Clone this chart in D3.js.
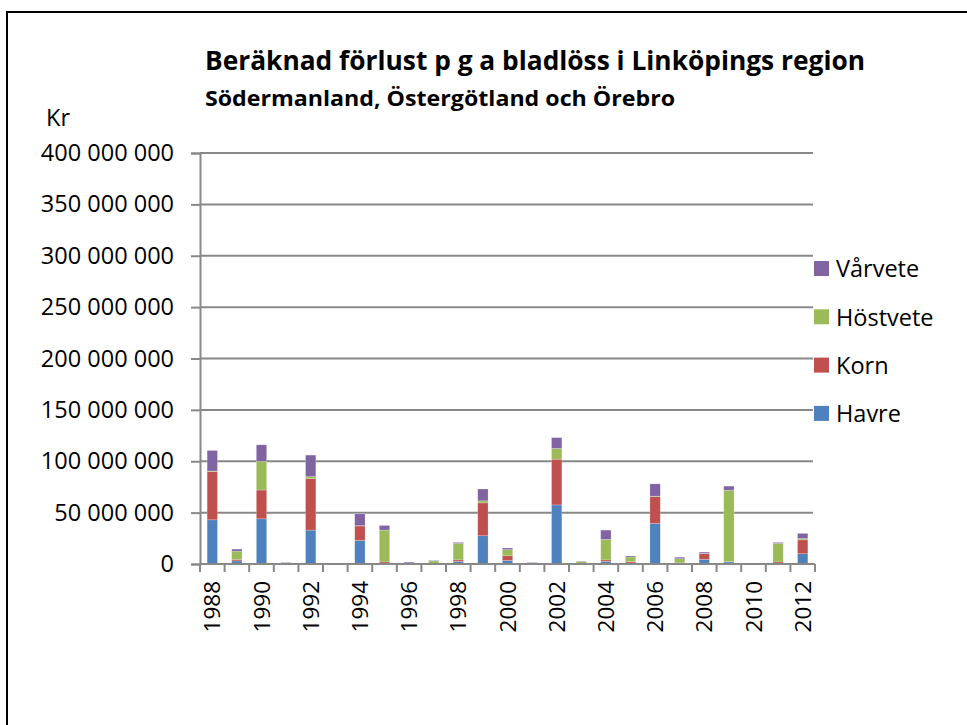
<!DOCTYPE html>
<html>
<head>
<meta charset="utf-8">
<script src="https://cdn.jsdelivr.net/npm/d3@7"></script>
<style>
  body { margin: 0; background: #fff; }
  text { font-family: "Open Sans", sans-serif; fill: #000; }
</style>
</head>
<body>
<div id="chart-area"></div>
<script>
const W = 967, H = 725
const PLOT = { LEFT: 200, RIGHT: 815, TOP: 153, BOTTOM: 564 }

// data (kr, in millions)
const years = d3.range(1988, 2013).map(String)
const havre    = [43, 3, 44, 0, 33, 0, 23, 0.5, 0, 0, 2.5, 27.5, 3.5, 0, 57.5, 0, 2.5, 1, 39.5, 0.3, 4.5, 2, 0, 0.5, 10]
const korn     = [47, 1.5, 28, 0, 50, 0.5, 14, 1.5, 0.3, 0, 1.5, 32, 4.5, 0, 44.5, 0, 1.5, 1.3, 26, 0.8, 5.5, 0.3, 0.2, 1.5, 13.5]
const hostvete = [0.5, 8, 28, 1, 2, 0, 0.3, 31, 0, 3, 16, 2, 6, 1, 10.5, 2.5, 20, 4.5, 0.5, 4, 0.3, 69.5, 0, 18, 1.3]
const varvete  = [20, 2, 16, 0.5, 21, 0.3, 11.5, 4.5, 1.5, 0.5, 1, 11.5, 1.6, 0.5, 10.5, 0.3, 9, 1, 12, 1.5, 1.3, 4, 0.1, 1, 5]
const series = ["Havre", "Korn", "Höstvete", "Vårvete"]
const colors = ["#4F81BD", "#C0504D", "#9BBB59", "#8064A2"]
const yTicks = d3.range(0, 400000001, 50000000)

const rows = years.map((yr, i) => ({
  year: yr,
  "Havre": havre[i] * 1e6,
  "Korn": korn[i] * 1e6,
  "Höstvete": hostvete[i] * 1e6,
  "Vårvete": varvete[i] * 1e6
}))

const svg = d3.select("#chart-area").append("svg")
  .attr("width", W)
  .attr("height", H)

// outer chart border
svg.append("rect")
  .attr("x", 7).attr("y", 12)
  .attr("width", 1000).attr("height", 1000)
  .attr("fill", "none")
  .attr("stroke", "#000")
  .attr("stroke-width", 2)

const x = d3.scaleBand()
  .domain(years)
  .range([PLOT.LEFT, PLOT.RIGHT])

const y = d3.scaleLinear()
  .domain([0, 400000000])
  .range([PLOT.BOTTOM, PLOT.TOP])

const fmt = d => d3.format(",")(d).replace(/,/g, " ")

// gridlines
svg.append("g")
  .selectAll("line")
  .data(yTicks.slice(1))
  .join("line")
  .attr("x1", PLOT.LEFT).attr("x2", PLOT.RIGHT - 2)
  .attr("y1", d => y(d)).attr("y2", d => y(d))
  .attr("stroke", "#888")
  .attr("stroke-width", 2)

// y axis
const yAxis = svg.append("g")
  .attr("transform", `translate(${PLOT.LEFT},0)`)
  .call(d3.axisLeft(y).tickValues(yTicks).tickFormat(fmt).tickSize(9).tickPadding(17))
yAxis.select(".domain").attr("stroke", "#888").attr("stroke-width", 2)
yAxis.selectAll(".tick line").attr("stroke", "#888").attr("stroke-width", 2)
yAxis.selectAll("text")
  .attr("font-family", "Open Sans")
  .attr("font-size", 23.5)
  .attr("fill", "#000")

// stacked bars
const stack = d3.stack().keys(series)(rows)
const barW = x.bandwidth() * 0.42

svg.append("g")
  .selectAll("g")
  .data(stack)
  .join("g")
  .attr("fill", (d, i) => colors[i])
  .selectAll("rect")
  .data(d => d)
  .join("rect")
  .attr("x", d => x(d.data.year) + (x.bandwidth() - barW) / 2)
  .attr("width", barW)
  .attr("y", d => y(d[1]))
  .attr("height", d => Math.max(0, y(d[0]) - y(d[1])))
  .attr("stroke", "rgba(255,255,255,0.35)")
  .attr("stroke-width", 0.6)

// x axis
const xAxisG = svg.append("g")
  .attr("transform", `translate(0,${PLOT.BOTTOM})`)
xAxisG.append("line")
  .attr("x1", PLOT.LEFT).attr("x2", PLOT.RIGHT)
  .attr("stroke", "#888").attr("stroke-width", 2)
xAxisG.selectAll(".xt")
  .data(years.concat(["end"]))
  .join("line")
  .attr("class", "xt")
  .attr("x1", (d, i) => PLOT.LEFT + i * x.step())
  .attr("x2", (d, i) => PLOT.LEFT + i * x.step())
  .attr("y1", 0).attr("y2", 8)
  .attr("stroke", "#888").attr("stroke-width", 2)

xAxisG.selectAll(".xl")
  .data(years.filter((d, i) => i % 2 === 0))
  .join("text")
  .attr("class", "xl")
  .attr("transform", d => `translate(${x(d) + x.bandwidth() / 2 + 8},17) rotate(-90)`)
  .attr("text-anchor", "end")
  .attr("font-family", "Liberation Sans, Arial, sans-serif")
  .attr("font-size", 22.5)
  .text(d => d)

// titles
svg.append("text")
  .attr("x", 205).attr("y", 70)
  .attr("font-weight", "bold")
  .attr("font-size", 27)
  .attr("textLength", 660)
  .attr("lengthAdjust", "spacingAndGlyphs")
  .text("Beräknad förlust p g a bladlöss i Linköpings region")

svg.append("text")
  .attr("x", 205).attr("y", 106)
  .attr("font-weight", "bold")
  .attr("font-size", 21.5)
  .attr("textLength", 470)
  .attr("lengthAdjust", "spacingAndGlyphs")
  .text("Södermanland, Östergötland och Örebro")

svg.append("text")
  .attr("x", 46).attr("y", 126)
  .attr("font-size", 23.5)
  .text("Kr")

// legend (top item = Vårvete)
const legend = svg.append("g")
  .attr("transform", "translate(814,269)")
series.slice().reverse().forEach((s, i) => {
  const row = legend.append("g")
    .attr("transform", `translate(0, ${i * 48.3})`)
  row.append("rect")
    .attr("y", -8)
    .attr("width", 15).attr("height", 15)
    .attr("fill", colors[series.indexOf(s)])
  row.append("text")
    .attr("x", 22)
    .attr("y", 0)
    .attr("dy", "0.36em")
    .attr("font-size", 23.5)
    .text(s)
})
</script>
</body>
</html>
